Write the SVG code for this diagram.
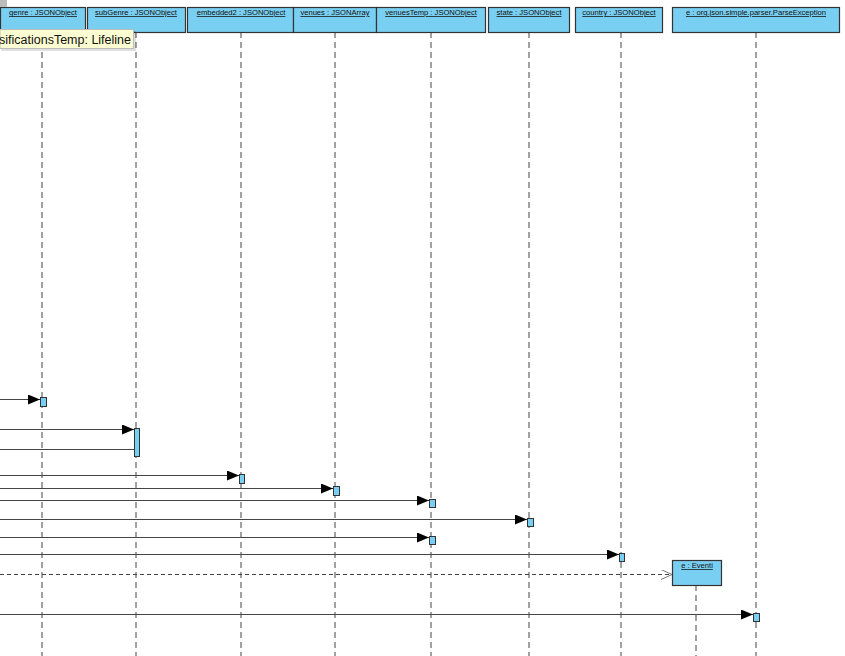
<svg xmlns="http://www.w3.org/2000/svg" width="845" height="656" viewBox="0 0 845 656">
  <style>
    .hdr { fill: #79cff2; stroke: #333; stroke-width: 1.2; }
    .act { fill: #79cff2; stroke: #333; stroke-width: 1; }
    .life { stroke: #444; stroke-width: 1; stroke-dasharray: 6 4; fill: none; }
    .lbl { font-family: "Liberation Sans", Arial, sans-serif; font-size: 7.6px; fill: #111; text-anchor: middle; text-decoration: underline; }
    .msg { stroke: #444; stroke-width: 1; fill: none; }
    .ret { stroke: #444; stroke-width: 1; fill: none; stroke-dasharray: 4 3; }
    .tip { font-family: "Liberation Sans", Arial, sans-serif; font-size: 12.5px; fill: #111; }
  </style>
  <defs>
    <marker id="solid" markerWidth="12" markerHeight="10" refX="12" refY="5" orient="auto" markerUnits="userSpaceOnUse">
      <path d="M0,0 L12,5 L0,10 Z" fill="#000"/>
    </marker>
    <marker id="open" markerWidth="12" markerHeight="10" refX="11" refY="5" orient="auto" markerUnits="userSpaceOnUse">
      <path d="M0,0 L11,5 L0,10" fill="none" stroke="#777" stroke-width="1"/>
    </marker>
  </defs>
  <rect width="845" height="656" fill="#fff"/>

  <!-- lifelines -->
  <g id="lifelines">
    <line class="life" x1="42" y1="32" x2="42" y2="656"/>
    <line class="life" x1="136" y1="32" x2="136" y2="656"/>
    <line class="life" x1="241" y1="32" x2="241" y2="656"/>
    <line class="life" x1="335" y1="32" x2="335" y2="656"/>
    <line class="life" x1="431" y1="32" x2="431" y2="656"/>
    <line class="life" x1="529" y1="32" x2="529" y2="656"/>
    <line class="life" x1="621" y1="32" x2="621" y2="656"/>
    <line class="life" x1="756" y1="32" x2="756" y2="656"/>
    <line class="life" x1="696" y1="585" x2="696" y2="656"/>
  </g>

  <!-- messages -->
  <g id="connectors">
    <line class="msg" x1="0" y1="399.5" x2="40" y2="399.5" marker-end="url(#solid)"/>
    <line class="msg" x1="0" y1="429.5" x2="134" y2="429.5" marker-end="url(#solid)"/>
    <line class="msg" x1="0" y1="449.5" x2="134" y2="449.5"/>
    <line class="msg" x1="0" y1="475.5" x2="239" y2="475.5" marker-end="url(#solid)"/>
    <line class="msg" x1="0" y1="488.5" x2="333" y2="488.5" marker-end="url(#solid)"/>
    <line class="msg" x1="0" y1="500.5" x2="429" y2="500.5" marker-end="url(#solid)"/>
    <line class="msg" x1="0" y1="519.5" x2="527" y2="519.5" marker-end="url(#solid)"/>
    <line class="msg" x1="0" y1="537.5" x2="429" y2="537.5" marker-end="url(#solid)"/>
    <line class="msg" x1="0" y1="554.5" x2="619" y2="554.5" marker-end="url(#solid)"/>
    <line class="ret" x1="0" y1="574.5" x2="672" y2="574.5" marker-end="url(#open)"/>
    <line class="msg" x1="0" y1="614.5" x2="753" y2="614.5" marker-end="url(#solid)"/>
  </g>

  <!-- activations -->
  <g id="activations">
    <rect class="act" x="40.5" y="397.5" width="6" height="9"/>
    <rect class="act" x="134.5" y="428.5" width="5" height="28"/>
    <rect class="act" x="239.5" y="474.5" width="5" height="9"/>
    <rect class="act" x="333.5" y="486.5" width="6" height="9"/>
    <rect class="act" x="429.5" y="499.5" width="6" height="8"/>
    <rect class="act" x="527.5" y="518.5" width="6" height="8"/>
    <rect class="act" x="429.5" y="536.5" width="6" height="8"/>
    <rect class="act" x="619.5" y="553.5" width="5" height="8"/>
    <rect class="act" x="753.5" y="613.5" width="6" height="8"/>
  </g>

  <!-- lifeline heads -->
  <g id="genre">
    <rect class="hdr" x="0.5" y="7.5" width="85" height="25"/>
    <text class="lbl" x="43" y="15">genre : JSONObject</text>
  </g>
  <g id="subGenre">
    <rect class="hdr" x="87.5" y="7.5" width="98" height="25"/>
    <text class="lbl" x="136" y="15">subGenre : JSONObject</text>
  </g>
  <g id="embedded2">
    <rect class="hdr" x="187.5" y="7.5" width="106" height="25"/>
    <text class="lbl" x="241" y="15">embedded2 : JSONObject</text>
  </g>
  <g id="venues">
    <rect class="hdr" x="293.5" y="7.5" width="83" height="25"/>
    <text class="lbl" x="335" y="15">venues : JSONArray</text>
  </g>
  <g id="venuesTemp">
    <rect class="hdr" x="376.5" y="7.5" width="109" height="25"/>
    <text class="lbl" x="431" y="15">venuesTemp : JSONObject</text>
  </g>
  <g id="state">
    <rect class="hdr" x="488.5" y="7.5" width="81" height="25"/>
    <text class="lbl" x="529" y="15">state : JSONObject</text>
  </g>
  <g id="country">
    <rect class="hdr" x="575.5" y="7.5" width="87" height="25"/>
    <text class="lbl" x="619" y="15">country : JSONObject</text>
  </g>
  <g id="parseException">
    <rect class="hdr" x="672.5" y="7.5" width="167" height="25"/>
    <text class="lbl" x="756" y="15">e : org.json.simple.parser.ParseException</text>
  </g>
  <g id="eventi">
    <rect class="hdr" x="672.5" y="560.5" width="49" height="25"/>
    <text class="lbl" x="697" y="568">e : Eventi</text>
  </g>

  <!-- hover tooltip -->
  <g id="tooltip">
    <rect x="1" y="31" width="135" height="20" fill="#000" opacity="0.12"/>
    <rect x="0" y="29.5" width="133.5" height="19" fill="#fdfdd2" stroke="#bbb" stroke-width="1"/>
    <text class="tip" x="-1" y="43.5">sificationsTemp: Lifeline</text>
  </g>
  <rect x="0" y="0" width="7" height="7" fill="#bbb"/>
</svg>
